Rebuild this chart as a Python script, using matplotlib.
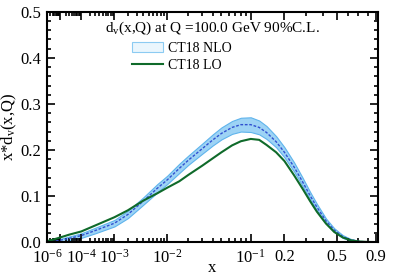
import numpy as np
import matplotlib
matplotlib.use('Agg')
import matplotlib.pyplot as plt
from matplotlib.patches import Patch
from matplotlib.lines import Line2D

plt.rcParams['font.family'] = 'Liberation Serif'
plt.rcParams['mathtext.fontset'] = 'custom'
plt.rcParams['mathtext.rm'] = 'Liberation Serif'
plt.rcParams['mathtext.it'] = 'Liberation Serif:italic'

# x points
x_vals = [1e-6, 3e-6, 1e-5, 3e-5, 1e-4, 3e-4, 1e-3, 2e-3, 4e-3, 7e-3, 0.01, 0.015,
          0.02, 0.03, 0.04, 0.05, 0.065, 0.08, 0.1, 0.12, 0.14, 0.17, 0.2, 0.24,
          0.28, 0.32, 0.36, 0.42, 0.48, 0.55, 0.62, 0.7, 0.8, 0.9]

# CT18 LO (green line)
lo_vals = [0.002, 0.005, 0.010, 0.016, 0.023, 0.036, 0.054, 0.069, 0.090, 0.106, 0.118, 0.132,
           0.146, 0.166, 0.182, 0.195, 0.210, 0.219, 0.224, 0.222, 0.211, 0.195, 0.176, 0.145,
           0.116, 0.089, 0.066, 0.040, 0.022, 0.010, 0.004, 0.0013, 0.0002, 0.0]

# CT18 NLO central value (dashed) and 90% C.L. half width (band)
nlo_vals = [0.000, 0.001, 0.004, 0.008, 0.014, 0.025, 0.041, 0.060, 0.089, 0.117, 0.135, 0.160,
            0.178, 0.203, 0.222, 0.236, 0.249, 0.255, 0.255, 0.249, 0.238, 0.218, 0.195, 0.163,
            0.131, 0.101, 0.076, 0.046, 0.026, 0.012, 0.005, 0.0015, 0.0002, 0.0]
nlo_err = [0.001, 0.002, 0.003, 0.004, 0.005, 0.006, 0.007, 0.008, 0.008, 0.009, 0.009, 0.010,
           0.010, 0.011, 0.012, 0.013, 0.014, 0.015, 0.016, 0.015, 0.014, 0.012, 0.011, 0.010,
           0.009, 0.008, 0.007, 0.005, 0.004, 0.003, 0.002, 0.001, 0.0005, 0.0]

xtick_pos = [1e-6, 1e-5, 1e-4, 1e-3, 1e-2, 0.1, 0.2, 0.5, 0.9]
xtick_lbl = ['10$^{-6}$', '', '10$^{-4}$', '10$^{-3}$', '10$^{-2}$', '10$^{-1}$', '0.2', '0.5', '0.9']

x = np.array(x_vals)
nlo = np.array(nlo_vals)
err = np.array(nlo_err)
lo = np.array(lo_vals)

fig = plt.figure(figsize=(3.95, 2.76), dpi=100)
ax = fig.add_axes([0.119, 0.123, 0.838, 0.834])

# x axis in x^0.2 scale
ax.set_xscale('function', functions=(lambda v: np.clip(v, 0, None) ** 0.2,
                                     lambda v: np.clip(v, 0, None) ** 5))

ax.fill_between(x, nlo - err, nlo + err, color='#9dd3f5', edgecolor='#5fb4ec', lw=0.8)
ax.plot(x, nlo, color='#3050d0', ls=(0, (2, 1.2)), lw=1.0)
ax.plot(x, lo, color='#0f6a2a', lw=1.5)

ax.set_xlim(1e-6, 0.93)
ax.set_ylim(0, 0.5)

minors = []
for d in [1e-6, 1e-5, 1e-4, 1e-3, 1e-2]:
    minors += [d * k for k in range(2, 10)]
minors += [0.3, 0.4, 0.6, 0.7, 0.8]
ax.set_xticks(xtick_pos)
ax.set_xticklabels(xtick_lbl)
ax.set_xticks(minors, minor=True)
ax.set_yticks(np.arange(0, 0.51, 0.1))
ax.set_yticklabels(['0.0', '0.1', '0.2', '0.3', '0.4', '0.5'])
ax.set_yticks(np.arange(0, 0.51, 0.02), minor=True)

ax.tick_params(which='both', direction='in', top=True, right=True, labelsize=12, width=1.2)
ax.tick_params(which='major', length=6)
ax.tick_params(which='minor', length=3)
ax.tick_params(axis='x', pad=5)
ax.tick_params(axis='y', pad=4)
for s in ax.spines.values():
    s.set_linewidth(1.5)

ax.set_xlabel('x', fontsize=12)
ax.xaxis.set_label_coords(0.5, -0.08)
ax.set_ylabel(r'x*d$_{\rm v}$(x,Q)', fontsize=12, labelpad=1)

ax.text(0.5, 0.93, r'd$_{\rm v}$(x,Q) at Q =100.0 GeV 90%C.L.', transform=ax.transAxes,
        ha='center', va='center', fontsize=11)

handles = [Patch(facecolor='#eaf6fd', edgecolor='#8ccbf2', lw=0.8),
           Line2D([], [], color='#0f6a2a', lw=1.5)]
ax.legend(handles, ['CT18 NLO', 'CT18 LO'], loc='upper left', bbox_to_anchor=(0.24, 0.895),
          frameon=False, fontsize=10, handlelength=2.2, handletextpad=0.4,
          labelspacing=0.3, borderaxespad=0)

fig.savefig('out.png', dpi=100)
